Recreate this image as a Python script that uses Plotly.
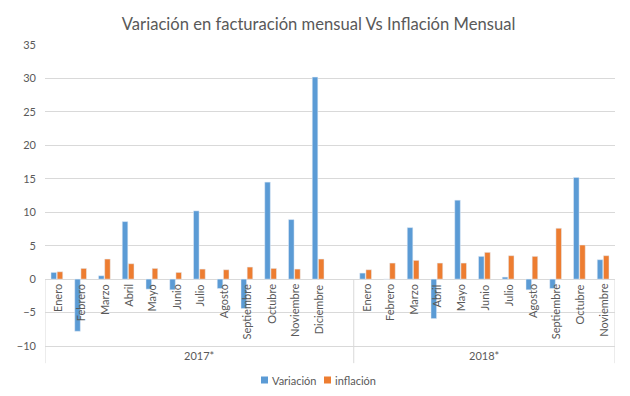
import plotly.graph_objects as go

# ---- data ----
years = ["2017*", "2018*"]
months_2017 = ["Enero", "Febrero", "Marzo", "Abril", "Mayo", "Junio", "Julio",
               "Agosto", "Septiembre", "Octubre", "Noviembre", "Diciembre", ""]
months_2018 = ["Enero", "Febrero", "Marzo", "Abril", "Mayo", "Junio", "Julio",
               "Agosto", "Septiembre", "Octubre", "Noviembre"]
variacion_2017 = [1.0, -7.8, 0.5, 8.6, -1.5, -1.6, 10.2, -1.4, -4.4, 14.5, 8.9, 30.2, None]
inflacion_2017 = [1.1, 1.6, 3.0, 2.3, 1.6, 1.0, 1.5, 1.4, 1.8, 1.6, 1.5, 3.0, None]
variacion_2018 = [0.9, 0.0, 7.7, -5.9, 11.8, 3.4, 0.3, -1.6, -1.4, 15.2, 2.9]
inflacion_2018 = [1.4, 2.4, 2.8, 2.4, 2.4, 4.0, 3.5, 3.4, 7.6, 5.1, 3.5]
y_ticks = [-10, -5, 0, 5, 10, 15, 20, 25, 30, 35]
series_names = ["Variación", "inflación"]

months = months_2017 + months_2018
variacion = variacion_2017 + variacion_2018
inflacion = inflacion_2017 + inflacion_2018
xpos = list(range(len(months)))
n17 = len(months_2017)
ymin, ymax = y_ticks[0], y_ticks[-1]

BLUE = "#5B9BD5"
ORANGE = "#ED7D31"
GRID = "#D9D9D9"
TXT = "#595959"
FONT = "Lato"

fig = go.Figure()
fig.add_trace(go.Bar(x=xpos, y=variacion, name=series_names[0], marker_color=BLUE))
fig.add_trace(go.Bar(x=xpos, y=inflacion, name=series_names[1], marker_color=ORANGE))

annotations = []
for i, m in enumerate(months):
    if not m:
        continue
    annotations.append(dict(x=i, y=0, xref="x", yref="y", text=m, showarrow=False,
                            textangle=-90, xanchor="center", yanchor="top", yshift=-3,
                            font=dict(family=FONT, size=11, color=TXT)))
group_centers = [(-0.5 + n17 - 0.5) / 2, (n17 - 0.5 + len(months) - 0.5) / 2]
for yr, cx in zip(years, group_centers):
    annotations.append(dict(x=cx, y=-0.03, xref="x", yref="paper", text=yr, showarrow=False,
                            xanchor="center", yanchor="middle",
                            font=dict(family=FONT, size=11, color=TXT)))

zero_paper = (0 - ymin) / (ymax - ymin)
shapes = []
for bx in [-0.5, n17 - 0.5, len(months) - 0.5]:
    shapes.append(dict(type="line", xref="x", yref="paper", x0=bx, x1=bx,
                       y0=zero_paper, y1=-0.057, line=dict(color=GRID, width=1)))

# compact legend (square swatch + label), like the original
PW, PH = 570.0, 301.0
leg_y = -34 / PH
for name, col, sx in zip(series_names, [BLUE, ORANGE], [216, 279]):
    shapes.append(dict(type="rect", xref="paper", yref="paper",
                       x0=sx / PW, x1=(sx + 7) / PW, y0=leg_y - 3.5 / PH, y1=leg_y + 3.5 / PH,
                       fillcolor=col, line=dict(width=0)))
    annotations.append(dict(x=(sx + 9) / PW, y=leg_y, xref="paper", yref="paper", text=name,
                            showarrow=False, xanchor="left", yanchor="middle",
                            font=dict(family=FONT, size=11, color=TXT)))

fig.update_layout(
    width=630, height=396,
    margin=dict(l=37, r=23, t=37, b=58, autoexpand=False),
    paper_bgcolor="white", plot_bgcolor="white",
    title=dict(text="Variación en facturación mensual Vs Inflación Mensual",
               x=0.493, xref="container", xanchor="center", y=0.958, yref="container",
               yanchor="middle", font=dict(family=FONT, size=16.6, color=TXT)),
    barmode="group", bargap=0.48, bargroupgap=0.1,
    showlegend=False,
    annotations=annotations, shapes=shapes,
    xaxis=dict(range=[-0.5, len(months) - 0.5], showticklabels=False, showgrid=False,
               zeroline=False, showline=True, linecolor=GRID, linewidth=1, fixedrange=True),
    yaxis=dict(range=[ymin, ymax], tickvals=y_ticks, showgrid=True, gridcolor=GRID,
               gridwidth=1, zeroline=True, zerolinecolor=GRID, zerolinewidth=1,
               showline=False, ticks="", ticklabelstandoff=8,
               tickfont=dict(family=FONT, size=11, color=TXT)),
)

fig.write_html("out.html")
